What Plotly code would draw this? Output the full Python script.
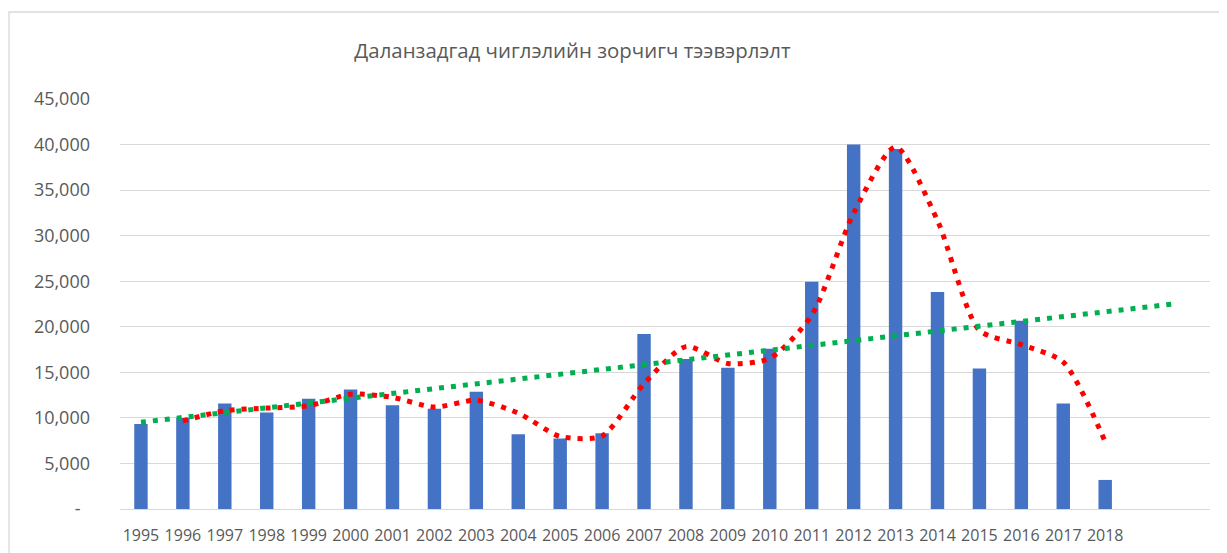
import numpy as np
import pandas as pd
import plotly.graph_objects as go

# ---- data ----
years = list(range(1995, 2019))
passengers = [9340, 10000, 11570, 10580, 12090, 13110, 11390, 10990, 12860, 8200,
              7730, 8310, 19200, 16450, 15500, 17580, 24950, 40000, 39500, 23810,
              15420, 20660, 11570, 3190]
y_tick_vals = [0, 5000, 10000, 15000, 20000, 25000, 30000, 35000, 40000, 45000]
y_tick_text = ["-\u00a0\u00a0", "5,000", "10,000", "15,000", "20,000", "25,000",
               "30,000", "35,000", "40,000", "45,000"]
title_text = "Даланзадгад чиглэлийн зорчигч тээвэрлэлт"
trend_forward = 1.72   # periods the linear trendline is extended past the last year

# ---- derived trendlines (as in the spreadsheet) ----
s = pd.Series(passengers, index=years, dtype=float)
ma = s.rolling(2).mean().dropna()          # 2-period moving average
slope, intercept = np.polyfit(np.array(years, dtype=float), np.array(passengers, dtype=float), 1)
trend_x = [years[0], years[-1] + trend_forward]
trend_y = [slope * x + intercept for x in trend_x]

TXT = "#595959"
GRID = "#d9d9d9"
OFF = 8  # page body margin offset

W, H = 1227 - OFF, 553 - OFF
L, T = 120 - OFF, 99 - OFF
PR, PB = 1210 - OFF, 509 - OFF
PW, PH = PR - L, PB - T

fig = go.Figure()
fig.add_trace(go.Bar(x=years, y=passengers, marker=dict(color="#4472C4", line=dict(width=0)),
                     width=0.32, showlegend=False, hoverinfo="x+y"))
fig.add_trace(go.Scatter(x=list(ma.index), y=list(ma.values), mode="lines",
                         line=dict(color="#FF0000", width=5, dash="5px,7px", shape="spline", smoothing=0.7),
                         showlegend=False))
fig.add_trace(go.Scatter(x=trend_x, y=trend_y, mode="lines",
                         line=dict(color="#00B050", width=5, dash="5px,7px"),
                         showlegend=False))

fig.update_layout(
    width=W, height=H,
    margin=dict(l=L, r=W - PR, t=T, b=H - PB, autoexpand=False),
    paper_bgcolor="white", plot_bgcolor="white",
    font=dict(family="Open Sans", color=TXT),
    title=dict(text=title_text, x=(572.5 - 120) / PW, xref="paper", xanchor="center",
               y=1 - (51 - OFF) / H, yref="container", yanchor="middle",
               font=dict(family="Open Sans", size=20.4, color=TXT)),
    xaxis=dict(range=[1994.5, 2020.5], tickvals=years, ticktext=[str(y) for y in years],
               showgrid=False, zeroline=False, showline=False, ticks="",
               tickfont=dict(size=16, color=TXT), ticklabelstandoff=15, fixedrange=True),
    yaxis=dict(range=[0, 45000], tickvals=y_tick_vals, ticktext=y_tick_text,
               showgrid=True, gridcolor=GRID, gridwidth=1.3,
               zeroline=True, zerolinecolor=GRID, zerolinewidth=1.3,
               showline=False, ticks="", tickfont=dict(size=18, color=TXT),
               ticklabelstandoff=29, fixedrange=True),
    shapes=[dict(type="rect", xref="paper", yref="paper",
                 x0=(9 - 120) / PW, x1=1.2, y0=-0.5, y1=(509 - 12) / PH,
                 line=dict(color=GRID, width=1.3), fillcolor="rgba(0,0,0,0)", layer="below")],
)

fig.write_html("out.html")
